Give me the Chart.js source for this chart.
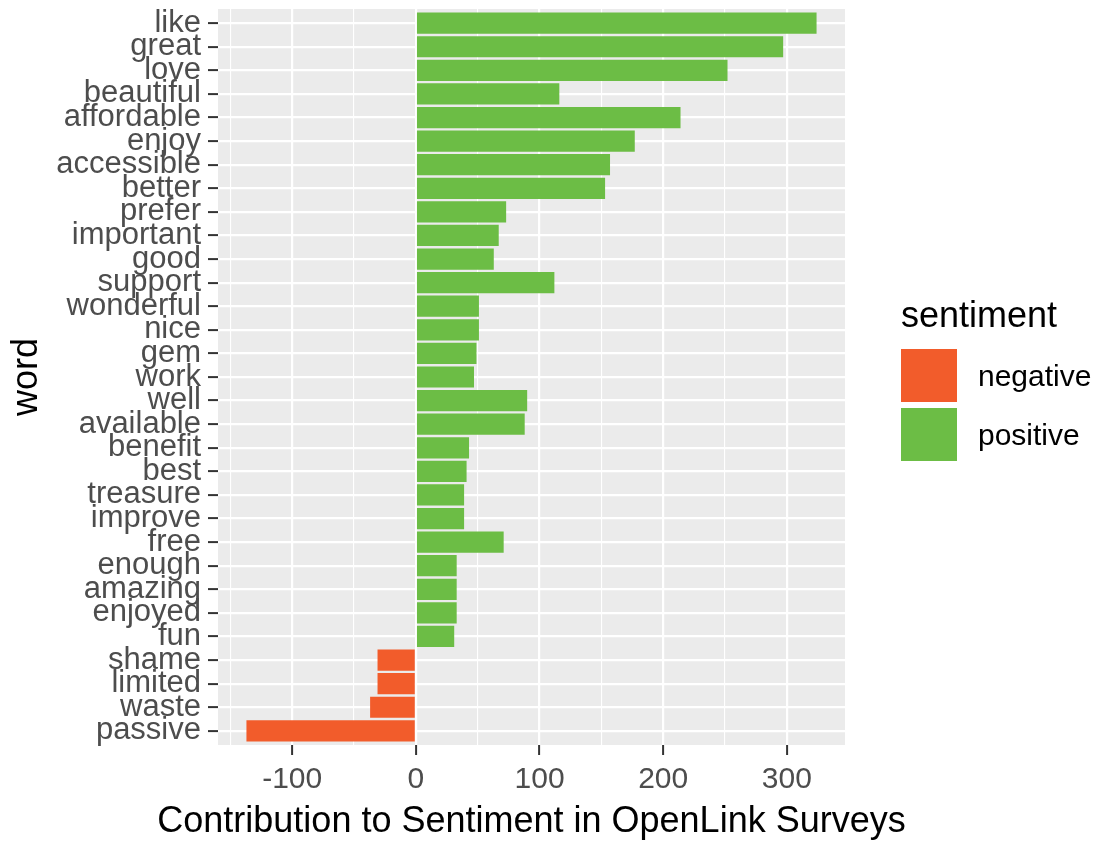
<!DOCTYPE html>
<html>
<head>
<meta charset="utf-8">
<script src="https://cdn.jsdelivr.net/npm/chart.js@4.4.1/dist/chart.umd.min.js"></script>
<style>
  body { margin: 0; background: #fff; font-family: "Liberation Sans", Arial, sans-serif; }
  #wrap { position: relative; width: 1096px; height: 842px; }
  #legend div, #legend span, #xtitle { position: absolute; white-space: nowrap; }
  .lg-title { font-size: 36px; color: #000; line-height: 40px; }
  .lg-label { font-size: 30px; color: #000; line-height: 34px; }
  #xtitle { font-size: 36px; color: #000; line-height: 40px; width: 1000px; text-align: center; }
</style>
</head>
<body>
<div id="wrap">
  <canvas id="chart" width="1096" height="842"></canvas>
  <div id="xtitle"></div>
  <div id="legend"></div>
</div>
<script>
// words, top to bottom as in the plot
const words = [
  'like', 'great', 'love', 'beautiful', 'affordable', 'enjoy', 'accessible', 'better',
  'prefer', 'important', 'good', 'support', 'wonderful', 'nice', 'gem', 'work',
  'well', 'available', 'benefit', 'best', 'treasure', 'improve', 'free', 'enough',
  'amazing', 'enjoyed', 'fun', 'shame', 'limited', 'waste', 'passive'
];
// contribution (n * sentiment score)
const contributions = [
  324, 297, 252, 116, 214, 177, 157, 153,
  73, 67, 63, 112, 51, 51, 49, 47,
  90, 88, 43, 41, 39, 39, 71, 33,
  33, 33, 31, -31, -31, -37, -137
];
const sentimentLabels = ['negative', 'positive'];
const sentimentColors = ['#F25C2B', '#6CBD45'];
const xTicks = [-100, 0, 100, 200, 300];
const xMinorTicks = [-150, -50, 50, 150, 250];
const xTitle = 'Contribution to Sentiment in OpenLink Surveys';

const tickGrey = '#4D4D4D';

// grey panel behind the grid, like ggplot
const panelBg = {
  id: 'panelBg',
  beforeDraw(chart) {
    const { ctx, chartArea: a } = chart;
    ctx.save();
    ctx.fillStyle = '#EBEBEB';
    ctx.fillRect(a.left, a.top, a.right - a.left, a.bottom - a.top);
    ctx.restore();
  }
};

const isMajor = v => xTicks.includes(v);

const ctx = document.getElementById('chart').getContext('2d');
const chart = new Chart(ctx, {
  type: 'bar',
  data: {
    datasets: [{
      data: words.map((w, i) => ({ x: contributions[i], y: i })),
      backgroundColor: contributions.map(v => v < 0 ? sentimentColors[0] : sentimentColors[1]),
      barPercentage: 0.9,
      categoryPercentage: 1
    }]
  },
  options: {
    indexAxis: 'y',
    responsive: false,
    animation: false,
    layout: { padding: { top: 9, right: 251, left: 0, bottom: 0 } },
    plugins: { legend: { display: false }, tooltip: { enabled: false } },
    scales: {
      x: {
        type: 'linear',
        min: -160,
        max: 347,
        afterBuildTicks: axis => {
          axis.ticks = xTicks.concat(xMinorTicks).sort((a, b) => a - b).map(v => ({ value: v }));
        },
        afterFit: axis => {
          axis.height = 97;
          axis.paddingLeft = 0;
          axis.paddingRight = 0;
        },
        ticks: {
          autoSkip: false,
          callback: v => isMajor(v) ? String(v) : '',
          color: tickGrey,
          font: { family: 'Liberation Sans', size: 30 },
          padding: 7,
          maxRotation: 0
        },
        grid: {
          color: '#FFFFFF',
          lineWidth: c => (c.tick && isMajor(c.tick.value)) ? 2.2 : 1.1,
          tickColor: c => (c.tick && isMajor(c.tick.value)) ? '#333333' : 'rgba(0,0,0,0)',
          tickWidth: 2,
          tickLength: 10
        },
        border: { display: false }
      },
      y: {
        type: 'linear',
        reverse: true,
        offset: false,
        min: -0.6,
        max: words.length - 0.4,
        afterBuildTicks: axis => {
          axis.ticks = words.map((w, i) => ({ value: i }));
        },
        afterFit: axis => {
          axis.width = 218;
          axis.paddingTop = 0;
          axis.paddingBottom = 0;
        },
        ticks: {
          autoSkip: false,
          callback: v => words[v],
          color: tickGrey,
          font: { family: 'Liberation Sans', size: 31 },
          padding: 7
        },
        grid: {
          color: '#FFFFFF',
          lineWidth: 2.2,
          tickColor: '#333333',
          tickWidth: 2,
          tickLength: 10,
          offset: false
        },
        border: { display: false },
        title: {
          display: true,
          text: 'word',
          color: '#000',
          font: { family: 'Liberation Sans', size: 36 },
          padding: { top: 5, bottom: 0 }
        }
      }
    }
  },
  plugins: [panelBg]
});

// x axis title, centred under the panel (wider than the panel, so kept out of canvas maxWidth)
const area = chart.chartArea;
const xt = document.getElementById('xtitle');
xt.textContent = xTitle;
xt.style.left = ((area.left + area.right) / 2 - 500) + 'px';
xt.style.top = '800px';

// ggplot style legend on the right
const legend = document.getElementById('legend');
let html = '<div class="lg-title" style="left:901px;top:295px">sentiment</div>';
sentimentLabels.forEach((lab, i) => {
  const top = 349 + i * 59;
  html += `<span style="left:901px;top:${top}px;width:56px;height:53px;background:${sentimentColors[i]}"></span>`;
  html += `<div class="lg-label" style="left:978px;top:${top + 10}px">${lab}</div>`;
});
legend.innerHTML = html;
</script>
</body>
</html>
